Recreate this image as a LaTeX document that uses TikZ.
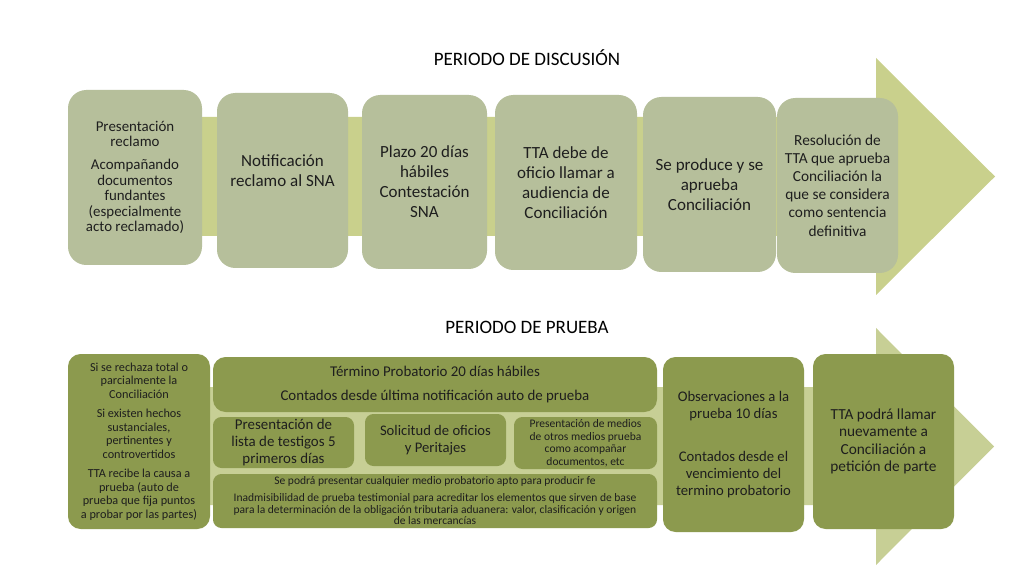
\documentclass[tikz,border=0pt]{standalone}
\usepackage{fontspec}
\setmainfont{Carlito}
\usepackage{xcolor}
\usetikzlibrary{positioning}
\definecolor{bandA}{HTML}{C9D08C}
\definecolor{bandB}{HTML}{C7CF95}
\definecolor{boxA}{HTML}{B6BF9B}
\definecolor{boxB}{HTML}{8C9A4E}
\definecolor{ink}{HTML}{1E1E1E}

\begin{document}
\begin{tikzpicture}[x=0.025cm,y=-0.025cm]
  \tikzset{boxsize/.style 2 args = {minimum width=#1*0.025cm,minimum height=#2*0.025cm}}
  \tikzset{stage/.style = {shape=rectangle,fill=boxA,rounded corners=13pt,inner sep=0pt,outer sep=0pt,align=center,text=ink}}
  \tikzset{proof/.style = {shape=rectangle,fill=boxB,rounded corners=9pt,inner sep=0pt,outer sep=0pt,align=center,text=ink}}
  \tikzset{smallproof/.style = {proof,rounded corners=6pt}}
  \tikzset{heading/.style = {font=\fontsize{13.5}{16}\selectfont,text=black}}

  \useasboundingbox[fill=white] (0,0) rectangle (1024,576);

  % big arrows
  \fill[bandA] (68,117) -- (876,117) -- (876,58) -- (995,176.5) -- (876,295) -- (876,236) -- (68,236) -- cycle;
  \fill[bandB] (68,387) -- (876,387) -- (876,328) -- (994,446.5) -- (876,565) -- (876,505) -- (68,505) -- cycle;

  \node[heading] (TD) at (527,58) {PERIODO DE DISCUSIÓN};
  \node[heading] (TP) at (527,327) {PERIODO DE PRUEBA};

  % discusion
  \node[stage,boxsize={134}{175},font=\fontsize{10.6}{11.1}\selectfont] (PR) at (135,177.5)
    {Presentación\\ reclamo\\[5pt] Acompañando\\ documentos\\ fundantes\\ (especialmente\\ acto reclamado)};
  \node[stage,boxsize={131}{175},font=\fontsize{12.1}{14.2}\selectfont] (NR) at (282.5,180.5)
    {Notificación\\ reclamo al SNA\\[-0.7pt]};
  \node[stage,boxsize={125}{174},font=\fontsize{12.1}{14.2}\selectfont] (PC) at (424.5,182)
    {Plazo 20 días\\ hábiles\\ Contestación\\ SNA};
  \node[stage,boxsize={142}{175},font=\fontsize{12.1}{14.2}\selectfont] (AC) at (566,182.5)
    {TTA debe de\\ oficio llamar a\\ audiencia de\\ Conciliación};
  \node[stage,boxsize={133}{175},font=\fontsize{12.1}{14.2}\selectfont] (SC) at (709.5,184.5)
    {Se produce y se\\ aprueba\\ Conciliación};
  \node[stage,boxsize={121}{175},font=\fontsize{10.9}{12.9}\selectfont] (RD) at (837.5,185.5)
    {Resolución de\\ TTA que aprueba\\ Conciliación la\\ que se considera\\ como sentencia\\ definitiva};

  % prueba
  \node[proof,boxsize={142}{175},font=\fontsize{8.7}{9.6}\selectfont] (RC) at (139,441.5)
    {Si se rechaza total o\\ parcialmente la\\ Conciliación\\[4.2pt] Si existen hechos\\ sustanciales,\\ pertinentes y\\ controvertidos\\[4.2pt] TTA recibe la causa a\\ prueba (auto de\\ prueba que fija puntos\\ a probar por las partes)};
  \node[proof,boxsize={444}{55},font=\fontsize{10.6}{11.6}\selectfont] (TPr) at (435,384.5)
    {Término Probatorio 20 días hábiles\\[5pt] Contados desde última notificación auto de prueba};
  \node[smallproof,boxsize={141}{51},font=\fontsize{10.6}{11.8}\selectfont] (LT) at (283.5,442.5)
    {Presentación de\\ lista de testigos 5\\ primeros días};
  \node[smallproof,boxsize={141}{52},font=\fontsize{10.4}{12.3}\selectfont] (SO) at (435.5,440)
    {Solicitud de oficios\\ y Peritajes};
  \node[smallproof,boxsize={143}{52},font=\fontsize{8.2}{8.9}\selectfont] (OM) at (585.5,443)
    {Presentación de medios\\ de otros medios prueba\\ como acompañar\\ documentos, etc};
  \node[smallproof,boxsize={444}{54},font=\fontsize{8.2}{8.3}\selectfont] (MP) at (435,501)
    {Se podrá presentar cualquier medio probatorio apto para producir fe\\[3.5pt] Inadmisibilidad de prueba testimonial para acreditar los elementos que sirven de base\\ para la determinación de la obligación tributaria aduanera: valor, clasificación y origen\\ de las mercancías};
  \node[proof,boxsize={141}{175},font=\fontsize{10.45}{12.3}\selectfont] (OB) at (733.5,444.5)
    {Observaciones a la\\ prueba 10 días\\[18pt] Contados desde el\\ vencimiento del\\ termino probatorio};
  \node[proof,boxsize={141}{175},font=\fontsize{10.9}{12.5}\selectfont] (LL) at (883.5,441.5)
    {TTA podrá llamar\\ nuevamente a\\ Conciliación a\\ petición de parte};
\end{tikzpicture}
\end{document}
